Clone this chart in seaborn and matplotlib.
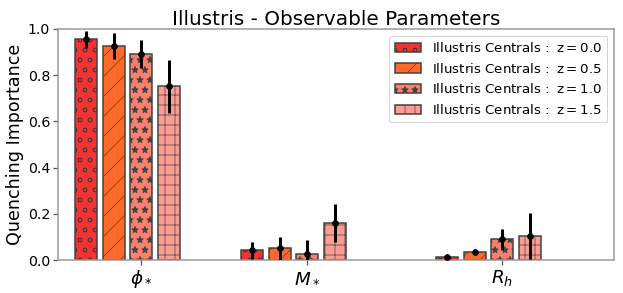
import numpy as np
import pandas as pd
import matplotlib
matplotlib.use("Agg")
import matplotlib.pyplot as plt
import seaborn as sns

# ---- data ----
params = [r'$\phi_*$', r'$M_*$', r'$R_h$']
param_pos = [0.0, 1.0, 2.175]
z_labels = ['0.0', '0.5', '1.0', '1.5']
imp_z00 = [0.955, 0.042, 0.012]
imp_z05 = [0.928, 0.050, 0.034]
imp_z10 = [0.893, 0.028, 0.090]
imp_z15 = [0.752, 0.159, 0.104]
err_z00 = [0.038, 0.038, 0.004]
err_z05 = [0.056, 0.048, 0.006]
err_z10 = [0.060, 0.060, 0.045]
err_z15 = [0.114, 0.083, 0.100]

values = [imp_z00, imp_z05, imp_z10, imp_z15]
errors = [err_z00, err_z05, err_z10, err_z15]
colors = ['#f43232', '#ff6a2b', '#fb7f6c', '#fc9c92']
hatches = ['o', '/', '*', '+']

sns.set_theme(style="ticks")
plt.rcParams['font.family'] = ['DejaVu Sans']
plt.rcParams['hatch.color'] = '#404040'
plt.rcParams['hatch.linewidth'] = 0.8
plt.rcParams['text.color'] = 'black'
plt.rcParams['axes.labelcolor'] = 'black'
plt.rcParams['xtick.labelcolor'] = 'black'
plt.rcParams['ytick.labelcolor'] = 'black'

DPI = 60
fig = plt.figure(figsize=(623 / DPI, 293 / DPI), dpi=DPI)
ax = fig.add_axes([58 / 623, 1 - 260 / 293, (614 - 58) / 623, (260 - 29) / 293])

step = 1 / 6
for i, (vals, errs) in enumerate(zip(values, errors)):
    xs = np.array(param_pos) + (i - 2) * step
    df = pd.DataFrame({'x': xs, 'v': vals})
    sns.barplot(data=df, x='x', y='v', native_scale=True, width=0.8 * step,
                color=colors[i], saturation=1, errorbar=None, ax=ax,
                edgecolor='#404040', linewidth=1.8, hatch=hatches[i],
                label=r'Illustris Centrals$\,:$ $\mathrm{z = ' + z_labels[i] + '}$')
    ax.errorbar(xs, vals, yerr=errs, fmt='o', color='black', ms=7,
                elinewidth=3.6, capsize=0, zorder=5)

ax.set_xlim(-0.502, 2.848)
ax.set_ylim(0, 1.0)
ax.set_xticks(param_pos)
ax.set_xticklabels(params, fontsize=22)
ax.set_yticks([0, 0.2, 0.4, 0.6, 0.8, 1.0])
ax.set_yticklabels(['0.0', '0.2', '0.4', '0.6', '0.8', '1.0'], fontsize=17)
ax.set_xlabel('')
ax.set_ylabel('Quenching Importance', fontsize=21, color='black')
ax.set_title('Illustris - Observable Parameters', fontsize=24, pad=4, color='black')
for s in ax.spines.values():
    s.set_color('#999999')
    s.set_linewidth(1.8)
ax.tick_params(axis='both', length=6, width=1.5, color='#555555', labelcolor='black')

handles = [c for c in ax.containers if hasattr(c, 'patches')][:4]
leg = ax.legend(handles=handles, loc='upper right', fontsize=16,
                frameon=True, fancybox=True, edgecolor='#cccccc', framealpha=1)
for t in leg.get_texts():
    t.set_color('black')

fig.savefig('out.png', dpi=DPI)
